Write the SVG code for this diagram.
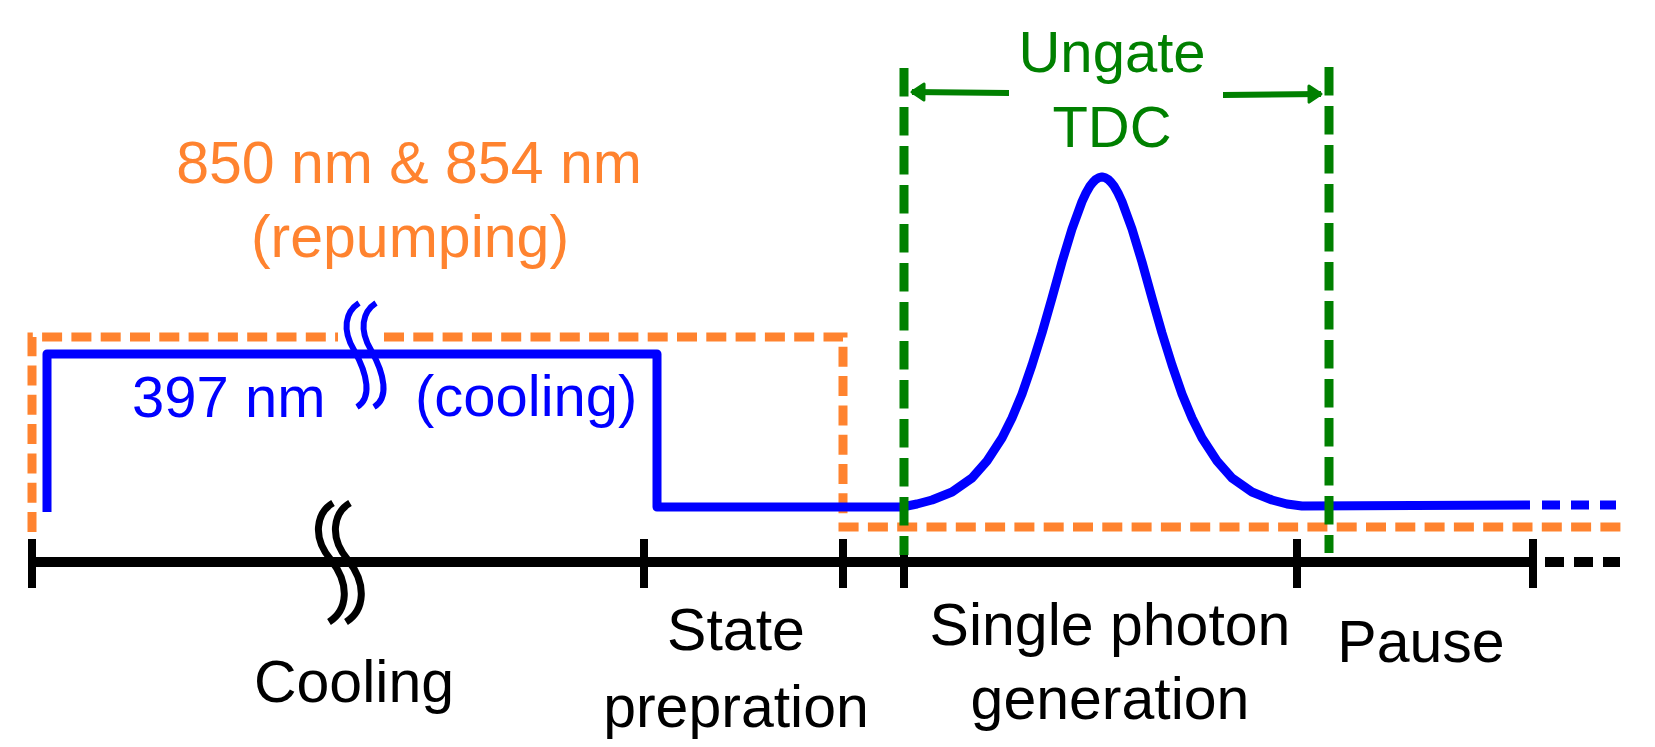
<svg xmlns="http://www.w3.org/2000/svg" width="1655" height="747" viewBox="0 0 1655 747">
<defs>
<style>
text{font-family:"Liberation Sans",Arial,sans-serif;font-size:59px;text-anchor:middle}
.blk{fill:#000}
.org{fill:#FF832F}
.blu{fill:#0000FF;font-size:58px}
.grn{fill:#008000;font-size:58px}
.axis{stroke:#000;stroke-width:10;fill:none}
.tick{stroke:#000;stroke-width:8;fill:none}
.blue{stroke:#0000FF;stroke-width:9;fill:none;stroke-linejoin:round}
.orange{stroke:#FF832F;stroke-width:9;fill:none;stroke-dasharray:20 9.3}
.gate{stroke:#008000;stroke-width:9;fill:none;stroke-dasharray:28.5 10.5}
.garrow{stroke:#008000;stroke-width:6;fill:none}
</style>
<marker id="ah" markerUnits="userSpaceOnUse" markerWidth="20" markerHeight="24" viewBox="0 0 20 24" refX="14" refY="12" orient="auto">
<path d="M2,4 L14,12 L2,20 Z" fill="#008000" stroke="#008000" stroke-width="3" stroke-linejoin="round"/>
</marker>
</defs>
<rect width="1655" height="747" fill="#fff"/>

<g id="connectors">
<g id="time-axis">
<line class="axis" x1="32" y1="562" x2="1533" y2="562"/>
<line class="axis" x1="1545" y1="562" x2="1620" y2="562" stroke-dasharray="19 10"/>
<line class="tick" x1="32" y1="539" x2="32" y2="588"/>
<line class="tick" x1="644" y1="539" x2="644" y2="588"/>
<line class="tick" x1="843" y1="539" x2="843" y2="588"/>
<line class="tick" x1="904" y1="539" x2="904" y2="588"/>
<line class="tick" x1="1297" y1="539" x2="1297" y2="588"/>
<line class="tick" x1="1533" y1="539" x2="1533" y2="588"/>
<path d="M333,503 C316,513 312,538 331,560 C350,584 348,610 329,622" stroke="#000" stroke-width="7" fill="none"/>
<path d="M350,503 C333,513 329,538 348,560 C367,584 365,610 346,622" stroke="#000" stroke-width="7" fill="none"/>
</g>
<g id="repump-pulse">
<path class="orange" d="M32,532 V337 H338"/>
<path class="orange" d="M384,337 H843 V527 H1623"/>
</g>
<g id="cooling-pulse">
<path class="blue" d="M47,512 V354 H657 V507 H902 L917,504 L932,500 L952,492 L972,478 L987,461 L1002,438 L1012,418 L1022,394 L1032,365 L1042,333 L1052,298 L1062,262 L1072,229 L1082,201.6 L1086,193 L1090,186 L1093,182.2 L1096,179.3 L1099,177.6 L1102,177 L1105,177.6 L1108,179.3 L1111,182.2 L1114,186 L1118,193 L1122,201.6 L1132,229 L1142,262 L1152,298 L1162,333 L1172,365 L1182,394 L1192,418 L1202,438 L1217,461 L1232,478 L1252,492 L1272,500 L1287,504 L1302,506 L1530,505"/>
<line class="blue" x1="1542" y1="505" x2="1616" y2="505" stroke-dasharray="18 11"/>
<path d="M359,303 C345,312 342,330 354,350 C368,375 372,398 357,407" stroke="#0000FF" stroke-width="6" fill="none"/>
<path d="M376,303 C362,312 359,330 371,350 C385,375 389,398 374,407" stroke="#0000FF" stroke-width="6" fill="none"/>
</g>
<g id="tdc-gate">
<line class="gate" x1="904" y1="68" x2="904" y2="555"/>
<line class="gate" x1="1329" y1="67" x2="1329" y2="553"/>
<line class="garrow" x1="1009" y1="93" x2="912" y2="92" marker-end="url(#ah)"/>
<line class="garrow" x1="1223" y1="95" x2="1321" y2="94" marker-end="url(#ah)"/>
</g>
</g>

<g id="label-repump">
<text class="org" x="409" y="183">850 nm &amp; 854 nm</text>
<text class="org" x="410" y="257">(repumping)</text>
</g>
<g id="label-cooling-laser">
<text class="blu" x="132" y="417" style="text-anchor:start">397 nm</text>
<text class="blu" x="415" y="416" style="text-anchor:start">(cooling)</text>
</g>
<g id="label-tdc">
<text class="grn" x="1112" y="72">Ungate</text>
<text class="grn" x="1112" y="147">TDC</text>
</g>
<g id="label-cooling">
<text class="blk" x="354" y="702">Cooling</text>
</g>
<g id="label-state">
<text class="blk" x="736" y="650">State</text>
<text class="blk" x="736" y="727">prepration</text>
</g>
<g id="label-photon">
<text class="blk" x="1110" y="645">Single photon</text>
<text class="blk" x="1110" y="719">generation</text>
</g>
<g id="label-pause">
<text class="blk" x="1421" y="662">Pause</text>
</g>
</svg>
